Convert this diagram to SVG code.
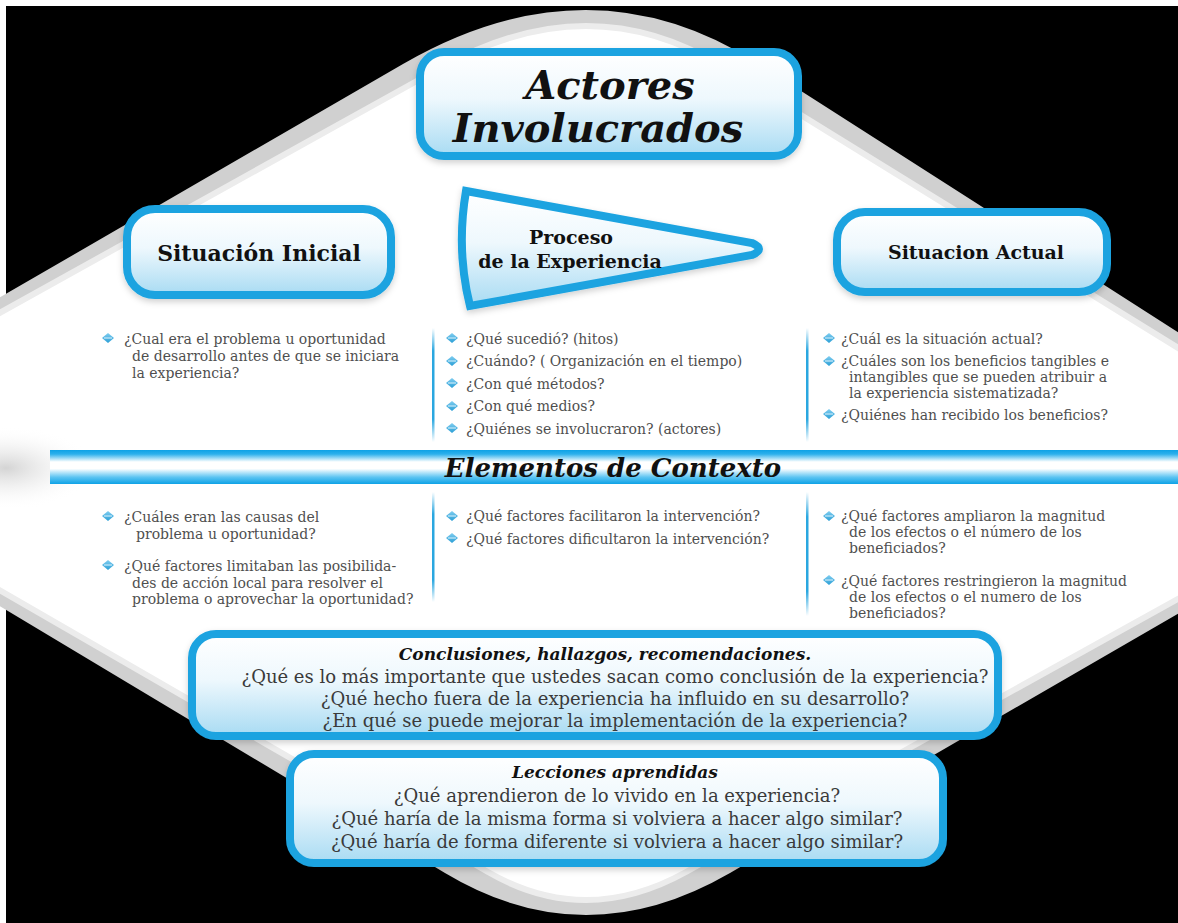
<svg xmlns="http://www.w3.org/2000/svg" width="1178" height="923" viewBox="0 0 1178 923">
<defs>
<linearGradient id="boxfill" x1="0" y1="0" x2="0" y2="1">
<stop offset="0" stop-color="#ffffff"/>
<stop offset="0.45" stop-color="#eef8fd"/>
<stop offset="1" stop-color="#a8dbf3"/>
</linearGradient>
<linearGradient id="band" x1="0" y1="0" x2="0" y2="1">
<stop offset="0" stop-color="#0ea2e6"/>
<stop offset="0.12" stop-color="#2cb0ec"/>
<stop offset="0.35" stop-color="#ffffff"/>
<stop offset="0.55" stop-color="#ffffff"/>
<stop offset="0.8" stop-color="#5cc4f2"/>
<stop offset="1" stop-color="#0ea2e6"/>
</linearGradient>
<linearGradient id="vdiv" x1="0" y1="0" x2="0" y2="1">
<stop offset="0" stop-color="#2aa7e0" stop-opacity="0"/>
<stop offset="0.2" stop-color="#2aa7e0"/>
<stop offset="0.8" stop-color="#2aa7e0"/>
<stop offset="1" stop-color="#2aa7e0" stop-opacity="0"/>
</linearGradient>
<linearGradient id="bul" x1="0" y1="0" x2="0" y2="1">
<stop offset="0" stop-color="#7fcdf0"/>
<stop offset="1" stop-color="#2b9fd6"/>
</linearGradient>
<radialGradient id="shade" cx="0.5" cy="0.5" r="0.5">
<stop offset="0" stop-color="#d4d4d4"/>
<stop offset="0.5" stop-color="#ececec" stop-opacity="0.6"/>
<stop offset="1" stop-color="#ffffff" stop-opacity="0"/>
</radialGradient>
<filter id="sh" x="-10%" y="-10%" width="120%" height="130%">
<feDropShadow dx="0" dy="3" stdDeviation="3" flood-color="#000" flood-opacity="0.18"/>
</filter>
<symbol id="b" viewBox="-6 -5 12 10" width="12" height="10" overflow="visible">
<polygon points="-6,0 0,-5 6,0 0,5" fill="url(#bul)"/>
<line x1="-4" y1="0" x2="4" y2="0" stroke="#dff3fc" stroke-width="1"/>
</symbol>
</defs>
<style>
.box{fill:url(#boxfill);stroke:#1ca3e0;stroke-width:8}
.t{font-family:"DejaVu Serif","Liberation Serif",serif;fill:#111;font-weight:bold}
.ti{font-family:"DejaVu Serif","Liberation Serif",serif;fill:#111;font-weight:bold;font-style:italic}
.q{font-family:"DejaVu Serif","Liberation Serif",serif;fill:#4f4f4f;font-size:14px}
.c{font-family:"DejaVu Serif","Liberation Serif",serif;fill:#3a3a3a;font-size:18px;text-anchor:middle}
</style>
<rect x="0" y="0" width="1178" height="923" fill="#000"/>
<rect x="0" y="0" width="1178" height="6" fill="#fff"/>
<rect x="0" y="0" width="6" height="923" fill="#fff"/>
<g id="background">
<path d="M -262,449 L 403,64 Q 590,-44 759,64 L 1409,480 L 730,873 Q 585,957 445,873 Z" fill="#d0d0d0"/>
<path d="M -245,449 L 442,67 Q 590,-15 723,67 L 1392,480 L 686,872 Q 585,928 488,872 Z" fill="#fff" stroke="#ececec" stroke-width="6"/>
<ellipse cx="6" cy="468" rx="90" ry="42" fill="url(#shade)"/>
</g>
<g id="connectors">
<rect x="432" y="328" width="2.5" height="114" fill="url(#vdiv)"/>
<rect x="806" y="328" width="2.5" height="114" fill="url(#vdiv)"/>
<rect x="432" y="492" width="2.5" height="110" fill="url(#vdiv)"/>
<rect x="806" y="492" width="2.5" height="124" fill="url(#vdiv)"/>
</g>
<g id="actores">
<rect class="box" x="420" y="52" width="378" height="104" rx="24" filter="url(#sh)"/>
<text class="ti" x="610" y="99" font-size="40" text-anchor="middle">Actores</text>
<text class="ti" x="598" y="142" font-size="40" text-anchor="middle">Involucrados</text>
</g>
<g id="situacion-inicial">
<rect class="box" x="127" y="209" width="264" height="86" rx="28" filter="url(#sh)"/>
<text class="t" x="259" y="261" font-size="22" text-anchor="middle">Situación Inicial</text>
</g>
<g id="proceso">
<path class="box" d="M 466,191 Q 456,250 470,306 L 752,255 Q 766,249 752,243 Z" filter="url(#sh)"/>
<text class="t" x="571" y="244" font-size="19" text-anchor="middle">Proceso</text>
<text class="t" x="570" y="268" font-size="19" text-anchor="middle">de la Experiencia</text>
</g>
<g id="situacion-actual">
<rect class="box" x="837" y="212" width="270" height="80" rx="28" filter="url(#sh)"/>
<text class="t" x="976" y="259" font-size="19" text-anchor="middle">Situacion Actual</text>
</g>
<g id="col1-top">
<use href="#b" x="102" y="333"/>
<text class="q" x="124" y="344">¿Cual era el problema u oportunidad</text>
<text class="q" x="132" y="361">de desarrollo antes de que se iniciara</text>
<text class="q" x="132" y="378">la experiencia?</text>
</g>
<g id="col2-top">
<use href="#b" x="446" y="333"/>
<text class="q" x="466" y="344">¿Qué sucedió? (hitos)</text>
<use href="#b" x="446" y="356"/>
<text class="q" x="466" y="366">¿Cuándo? ( Organización en el tiempo)</text>
<use href="#b" x="446" y="378"/>
<text class="q" x="466" y="389">¿Con qué métodos?</text>
<use href="#b" x="446" y="401"/>
<text class="q" x="466" y="411">¿Con qué medios?</text>
<use href="#b" x="446" y="423"/>
<text class="q" x="466" y="434">¿Quiénes se involucraron? (actores)</text>
</g>
<g id="col3-top">
<use href="#b" x="823" y="333"/>
<text class="q" x="841" y="344">¿Cuál es la situación actual?</text>
<use href="#b" x="823" y="356"/>
<text class="q" x="841" y="366">¿Cuáles son los beneficios tangibles e</text>
<text class="q" x="849" y="382">intangibles que se pueden atribuir a</text>
<text class="q" x="849" y="398">la experiencia sistematizada?</text>
<use href="#b" x="823" y="409"/>
<text class="q" x="841" y="420">¿Quiénes han recibido los beneficios?</text>
</g>
<g id="elementos">
<rect x="50" y="450" width="1128" height="34" fill="url(#band)"/>
<text class="ti" x="613" y="477" font-size="26" text-anchor="middle">Elementos de Contexto</text>
</g>
<g id="col1-bottom">
<use href="#b" x="102" y="511"/>
<text class="q" x="124" y="522">¿Cuáles eran las causas del</text>
<text class="q" x="136" y="539">problema u oportunidad?</text>
<use href="#b" x="102" y="560"/>
<text class="q" x="124" y="571">¿Qué factores limitaban las posibilida-</text>
<text class="q" x="132" y="588">des de acción local para resolver el</text>
<text class="q" x="132" y="604">problema o aprovechar la oportunidad?</text>
</g>
<g id="col2-bottom">
<use href="#b" x="446" y="511"/>
<text class="q" x="466" y="521">¿Qué factores facilitaron la intervención?</text>
<use href="#b" x="446" y="533"/>
<text class="q" x="466" y="544">¿Qué factores dificultaron la intervención?</text>
</g>
<g id="col3-bottom">
<use href="#b" x="823" y="511"/>
<text class="q" x="841" y="521">¿Qué factores ampliaron la magnitud</text>
<text class="q" x="849" y="537">de los efectos o el número de los</text>
<text class="q" x="849" y="553">beneficiados?</text>
<use href="#b" x="823" y="575"/>
<text class="q" x="841" y="586">¿Qué factores restringieron la magnitud</text>
<text class="q" x="849" y="602">de los efectos o el numero de los</text>
<text class="q" x="849" y="618">beneficiados?</text>
</g>
<g id="conclusiones">
<rect class="box" x="192" y="634" width="806" height="102" rx="24" filter="url(#sh)"/>
<text class="ti" x="605" y="660" font-size="17" text-anchor="middle">Conclusiones, hallazgos, recomendaciones.</text>
<text class="c" x="615" y="683">¿Qué es lo más importante que ustedes sacan como conclusión de la experiencia?</text>
<text class="c" x="615" y="705">¿Qué hecho fuera de la experiencia ha influido en su desarrollo?</text>
<text class="c" x="615" y="727">¿En qué se puede mejorar la implementación de la experiencia?</text>
</g>
<g id="lecciones">
<rect class="box" x="290" y="754" width="653" height="109" rx="24" filter="url(#sh)"/>
<text class="ti" x="615" y="778" font-size="17" text-anchor="middle">Lecciones aprendidas</text>
<text class="c" x="617" y="802">¿Qué aprendieron de lo vivido en la experiencia?</text>
<text class="c" x="617" y="825">¿Qué haría de la misma forma si volviera a hacer algo similar?</text>
<text class="c" x="617" y="848">¿Qué haría de forma diferente si volviera a hacer algo similar?</text>
</g>
</svg>
